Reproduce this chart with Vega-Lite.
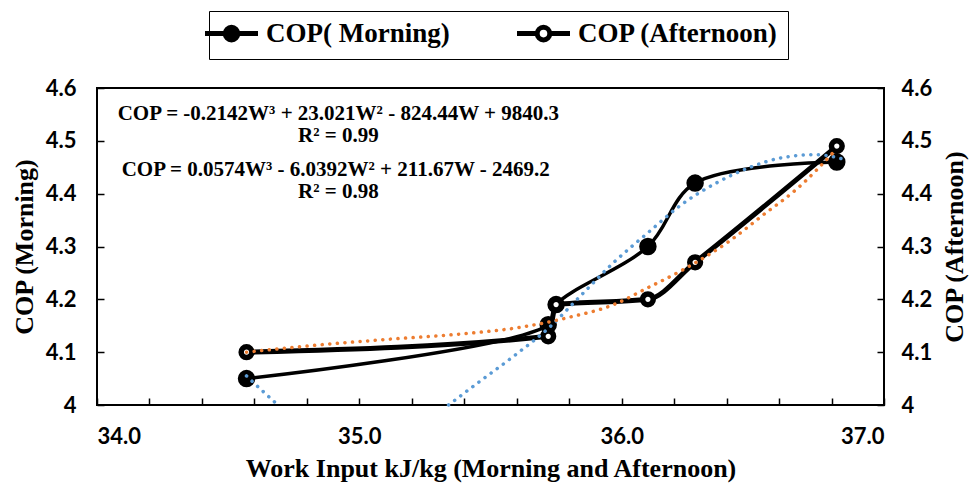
{
  "$schema": "https://vega.github.io/schema/vega-lite/v6.json",
  "width": 787,
  "height": 317,
  "autosize": {"type": "none"},
  "padding": {"left": 97, "top": 88, "right": 91, "bottom": 82},
  "background": "white",
  "config": {
    "view": {"stroke": "black", "strokeWidth": 2},
    "axis": {
      "labelFont": "Lato", "labelFontWeight": "bold", "labelFontSize": 22, "labelColor": "black",
      "titleFont": "Liberation Serif", "titleFontWeight": "bold", "titleFontSize": 26, "titleColor": "black",
      "tickColor": "black", "tickSize": -7, "tickWidth": 1.5, "domain": false, "grid": false
    },
    "legend": {
      "title": null, "orient": "none", "legendX": 112, "legendY": -77, "direction": "horizontal",
      "labelFont": "Liberation Serif", "labelFontSize": 27, "labelFontWeight": "bold", "labelColor": "black", "labelLimit": 400,
      "symbolSize": 400, "symbolStrokeWidth": 5, "symbolStrokeColor": "black",
      "symbolType": "M-2.65,0L-0.63,0M0.63,0L2.65,0M-0.63,0A0.63,0.63 0 1,1 0.63,0A0.63,0.63 0 1,1 -0.63,0Z",
      "labelOffset": 21, "columnPadding": 57, "padding": 9, "strokeColor": "black"
    }
  },
  "datasets": {
    "obs": [
      {"series": "COP( Morning)", "w": 34.57, "cop": 4.05},
      {"series": "COP( Morning)", "w": 35.72, "cop": 4.152},
      {"series": "COP( Morning)", "w": 35.75, "cop": 4.19},
      {"series": "COP( Morning)", "w": 36.10, "cop": 4.30},
      {"series": "COP( Morning)", "w": 36.28, "cop": 4.42},
      {"series": "COP( Morning)", "w": 36.82, "cop": 4.46},
      {"series": "COP (Afternoon)", "w": 34.57, "cop": 4.10},
      {"series": "COP (Afternoon)", "w": 35.72, "cop": 4.13},
      {"series": "COP (Afternoon)", "w": 35.75, "cop": 4.19},
      {"series": "COP (Afternoon)", "w": 36.10, "cop": 4.20},
      {"series": "COP (Afternoon)", "w": 36.28, "cop": 4.27},
      {"series": "COP (Afternoon)", "w": 36.82, "cop": 4.49}
    ],
    "trend": [
      {"fit": "morning", "seg": 1, "w": 34.57, "cop": 4.055},
      {"fit": "morning", "seg": 1, "w": 34.63, "cop": 4.027},
      {"fit": "morning", "seg": 1, "w": 34.69, "cop": 4.0},
      {"fit": "morning", "seg": 2, "w": 35.34, "cop": 4.0},
      {"fit": "morning", "seg": 2, "w": 35.46, "cop": 4.045},
      {"fit": "morning", "seg": 2, "w": 35.59, "cop": 4.093},
      {"fit": "morning", "seg": 2, "w": 35.72, "cop": 4.145},
      {"fit": "morning", "seg": 2, "w": 35.85, "cop": 4.21},
      {"fit": "morning", "seg": 2, "w": 35.97, "cop": 4.27},
      {"fit": "morning", "seg": 2, "w": 36.10, "cop": 4.326},
      {"fit": "morning", "seg": 2, "w": 36.23, "cop": 4.38},
      {"fit": "morning", "seg": 2, "w": 36.36, "cop": 4.42},
      {"fit": "morning", "seg": 2, "w": 36.49, "cop": 4.45},
      {"fit": "morning", "seg": 2, "w": 36.61, "cop": 4.468},
      {"fit": "morning", "seg": 2, "w": 36.74, "cop": 4.474},
      {"fit": "morning", "seg": 2, "w": 36.84, "cop": 4.466},
      {"fit": "afternoon", "seg": 1, "w": 34.57, "cop": 4.10},
      {"fit": "afternoon", "seg": 1, "w": 34.83, "cop": 4.113},
      {"fit": "afternoon", "seg": 1, "w": 35.10, "cop": 4.124},
      {"fit": "afternoon", "seg": 1, "w": 35.40, "cop": 4.135},
      {"fit": "afternoon", "seg": 1, "w": 35.60, "cop": 4.146},
      {"fit": "afternoon", "seg": 1, "w": 35.80, "cop": 4.166},
      {"fit": "afternoon", "seg": 1, "w": 35.97, "cop": 4.19},
      {"fit": "afternoon", "seg": 1, "w": 36.10, "cop": 4.222},
      {"fit": "afternoon", "seg": 1, "w": 36.23, "cop": 4.255},
      {"fit": "afternoon", "seg": 1, "w": 36.41, "cop": 4.31},
      {"fit": "afternoon", "seg": 1, "w": 36.54, "cop": 4.36},
      {"fit": "afternoon", "seg": 1, "w": 36.67, "cop": 4.41},
      {"fit": "afternoon", "seg": 1, "w": 36.82, "cop": 4.485}
    ],
    "notes": [
      {"txt": "COP = -0.2142W³ + 23.021W² - 824.44W + 9840.3", "w": 34.92, "cop": 4.551},
      {"txt": "R² = 0.99", "w": 34.92, "cop": 4.509},
      {"txt": "COP = 0.0574W³ - 6.0392W² + 211.67W - 2469.2", "w": 34.91, "cop": 4.445},
      {"txt": "R² = 0.98", "w": 34.92, "cop": 4.403}
    ]
  },
  "encoding": {
    "x": {
      "field": "w", "type": "quantitative",
      "scale": {"domain": [34, 37], "nice": false, "zero": false},
      "axis": {
        "title": "Work Input kJ/kg (Morning and Afternoon)",
        "values": [34, 34.2, 34.4, 34.6, 34.8, 35, 35.2, 35.4, 35.6, 35.8, 36, 36.2, 36.4, 36.6, 36.8, 37],
        "labelExpr": "abs(datum.value - round(datum.value)) < 0.001 ? format(datum.value, '.1f') : ''",
        "labelPadding": 28,
        "titlePadding": 8
      }
    }
  },
  "layer": [
    {
      "data": {"name": "obs"},
      "transform": [{"filter": "datum.series == 'COP( Morning)'"}],
      "mark": {"type": "line", "color": "black", "strokeWidth": 3.5, "interpolate": "catmull-rom"},
      "encoding": {
        "y": {
          "field": "cop", "type": "quantitative",
          "scale": {"domain": [4, 4.6], "nice": false, "zero": false},
          "axis": {
            "orient": "left", "title": "COP (Morning)",
            "values": [4, 4.1, 4.2, 4.3, 4.4, 4.5, 4.6],
            "labelExpr": "datum.value < 4.05 ? '4' : format(datum.value, '.1f')",
            "labelPadding": 28, "titlePadding": 8
          }
        }
      }
    },
    {
      "data": {"name": "obs"},
      "transform": [{"filter": "datum.series == 'COP (Afternoon)'"}],
      "mark": {"type": "line", "color": "black", "strokeWidth": 5, "interpolate": "monotone"},
      "encoding": {
        "y": {
          "field": "cop", "type": "quantitative",
          "scale": {"domain": [4, 4.6], "nice": false, "zero": false},
          "axis": {
            "orient": "right", "title": "COP (Afternoon)",
            "values": [4, 4.1, 4.2, 4.3, 4.4, 4.5, 4.6],
            "labelExpr": "datum.value < 4.05 ? '4' : format(datum.value, '.1f')",
            "labelPadding": 24, "titlePadding": 10, "titleAngle": 270, "titleBaseline": "top"
          }
        }
      }
    },
    {
      "data": {"name": "obs"},
      "transform": [{"filter": "datum.series == 'COP( Morning)'"}],
      "mark": {"type": "point", "stroke": "black", "strokeWidth": 2, "size": 240, "opacity": 1, "fillOpacity": 1},
      "encoding": {
        "y": {"field": "cop", "type": "quantitative", "axis": null},
        "fill": {
          "field": "series", "type": "nominal",
          "scale": {"domain": ["COP( Morning)", "COP (Afternoon)"], "range": ["black", "white"]}
        }
      }
    },
    {
      "data": {"name": "obs"},
      "transform": [{"filter": "datum.series == 'COP (Afternoon)'"}],
      "mark": {"type": "point", "stroke": "black", "strokeWidth": 5.5, "size": 115, "opacity": 1, "fillOpacity": 1},
      "encoding": {
        "y": {"field": "cop", "type": "quantitative", "axis": null},
        "fill": {
          "field": "series", "type": "nominal",
          "scale": {"domain": ["COP( Morning)", "COP (Afternoon)"], "range": ["black", "white"]}
        }
      }
    },
    {
      "data": {"name": "trend"},
      "transform": [{"filter": "datum.fit == 'morning'"}],
      "mark": {"type": "line", "color": "#5B9BD5", "strokeWidth": 3.5, "strokeDash": [0.1, 7.5], "strokeCap": "round", "interpolate": "monotone"},
      "encoding": {
        "y": {"field": "cop", "type": "quantitative", "axis": null},
        "detail": {"field": "seg", "type": "nominal"}
      }
    },
    {
      "data": {"name": "trend"},
      "transform": [{"filter": "datum.fit == 'afternoon'"}],
      "mark": {"type": "line", "color": "#ED7D31", "strokeWidth": 3.5, "strokeDash": [0.1, 7.5], "strokeCap": "round", "interpolate": "monotone"},
      "encoding": {
        "y": {"field": "cop", "type": "quantitative", "axis": null},
        "detail": {"field": "seg", "type": "nominal"}
      }
    },
    {
      "data": {"name": "notes"},
      "mark": {"type": "text", "font": "Liberation Serif", "fontWeight": "bold", "fontSize": 21, "color": "black", "align": "center", "baseline": "middle"},
      "encoding": {
        "y": {"field": "cop", "type": "quantitative", "axis": null},
        "text": {"field": "txt", "type": "nominal"}
      }
    }
  ],
  "resolve": {"axis": {"y": "independent"}}
}
